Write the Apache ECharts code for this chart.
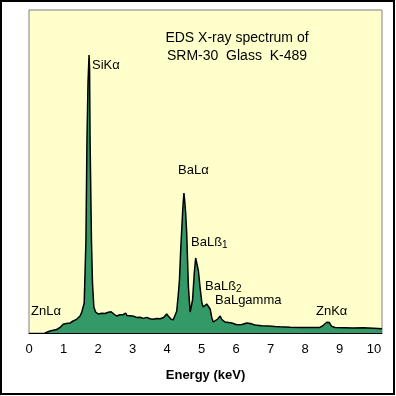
<!DOCTYPE html>
<html>
<head>
<meta charset="utf-8">
<script src="https://cdn.jsdelivr.net/npm/echarts@6/dist/echarts.min.js"></script>
<style>html,body{margin:0;padding:0;background:#fff}#c{width:396px;height:396px}</style>
</head>
<body>
<div id="c"></div>
<script>
// Energy (keV) of each sampled channel
var energies = [0.46,0.61,0.80,0.90,0.99,1.04,1.08,1.12,1.19,1.28,1.38,1.48,1.53,1.57,1.60,1.65,1.68,1.71,1.74,1.755,1.77,1.81,1.84,1.88,1.93,
1.96,2.01,2.06,2.11,2.16,2.20,2.25,2.30,2.34,2.38,2.44,2.49,2.54,2.59,2.64,2.69,2.73,2.77,2.80,2.84,2.88,2.93,2.98,3.03,3.07,3.12,3.17,3.22,3.27,3.31,3.36,3.41,3.46,3.51,3.56,3.60,3.65,3.70,3.75,3.80,3.85,3.90,3.94,3.99,4.04,4.08,4.12,4.18,4.23,
4.28,4.33,4.36,4.40,4.43,4.46,4.49,4.51,4.54,4.57,4.62,4.67,4.70,4.74,4.79,4.83,4.86,4.91,4.96,5.01,5.05,5.10,5.15,5.20,5.25,5.30,5.34,5.39,5.47,5.54,5.59,5.68,5.78,5.88,6.02,6.17,6.31,6.41,6.55,6.74,6.94,7.13,7.28,7.57,7.86,8.14,8.43,8.53,8.63,8.70,8.77,8.87,9.11,9.40,9.69,9.98,10.23];
// Counts (arbitrary units)
var counts = [0,2,3.5,5.5,8.7,10.3,9.5,8.5,10,12,13.7,17,21,23,30,93,193,250,278,265,193,93,50,26,21,
19.7,19,20.5,19.7,20.5,19.5,21,20.7,22,21.3,19.5,18.5,17,18.8,18.3,17.5,18.3,17.8,20,17.5,16.7,17.2,16.5,16.8,16,15.6,15,15.8,15.2,14.6,15,15.6,15,14.2,14.3,13.8,13.7,14.5,14.6,14.2,15,15.5,16.7,19,16.7,15,13.7,13.3,15,
21.7,40,53,86,106,126,140,133,120,100,46,21,20,33,60,75,76,62,45,30,26,24,29,31,24,15,11,11,14,17,13.5,11,10.5,10,8.3,8.5,10,9.5,8,7.2,7,6.5,6.2,5.8,5.6,5.4,5.6,7.7,10.7,10.5,6.7,5.5,5.3,5.1,5.3,4.8,4.3];
var xTicks = [0,1,2,3,4,5,6,7,8,9,10];
var titleLines = ['EDS X-ray spectrum of', 'SRM-30  Glass  K-489'];

var data = energies.map(function(e, i){ return [e, counts[i]]; });
var font = 'Arial, "Liberation Sans", sans-serif';

var chart = echarts.init(document.getElementById('c'), null, {renderer:'canvas'});
var richBase = {n:{fontSize:13, fontFamily:font, color:'#000'}, s:{fontSize:10, fontFamily:font, color:'#000', padding:[6,0,0,0]}};
chart.setOption({
  animation:false,
  backgroundColor:'#fff',
  grid:{left:29, top:10, right:14, bottom:63, show:true, backgroundColor:'#FFFFCC', borderColor:'#808080', borderWidth:1},
  xAxis:{type:'value', min:0, max:10.23, interval:1,
    axisLine:{show:true, lineStyle:{color:'#000', width:1}},
    axisTick:{show:false}, splitLine:{show:false},
    axisLabel:{color:'#000', fontSize:13, fontFamily:font, margin:10,
      formatter:function(v){ return xTicks.indexOf(v) >= 0 ? String(v) : ''; }},
    name:'Energy (keV)', nameLocation:'middle', nameGap:36,
    nameTextStyle:{color:'#000', fontSize:13, fontWeight:'bold', fontFamily:font}
  },
  yAxis:{type:'value', min:0, max:323, show:false, splitLine:{show:false}},
  series:[{type:'line', data:data, showSymbol:false, smooth:false,
    lineStyle:{color:'#000', width:1.5},
    areaStyle:{color:'#339966', opacity:1}, z:3}],
  graphic:[
    {type:'rect', shape:{x:1, y:1, width:393, height:393}, style:{fill:'none', stroke:'#000', lineWidth:2}, z:20},
    {type:'text', x:237, y:29, style:{text:titleLines.join('\n'), font:'14px '+font, fill:'#000', align:'center', lineHeight:18}, z:10},
    {type:'text', x:92, y:59, style:{text:'SiKα', font:'13px '+font, fill:'#000'}, z:10},
    {type:'text', x:178, y:164, style:{text:'BaLα', font:'13px '+font, fill:'#000'}, z:10},
    {type:'text', x:191, y:234, style:{text:'{n|BaLß}{s|1}', rich:richBase}, z:10},
    {type:'text', x:205, y:278, style:{text:'{n|BaLß}{s|2}', rich:richBase}, z:10},
    {type:'text', x:215, y:294, style:{text:'BaLgamma', font:'13px '+font, fill:'#000'}, z:10},
    {type:'text', x:31, y:305, style:{text:'ZnLα', font:'13px '+font, fill:'#000'}, z:10},
    {type:'text', x:316, y:305, style:{text:'ZnKα', font:'13px '+font, fill:'#000'}, z:10}
  ]
});
</script>
</body>
</html>
